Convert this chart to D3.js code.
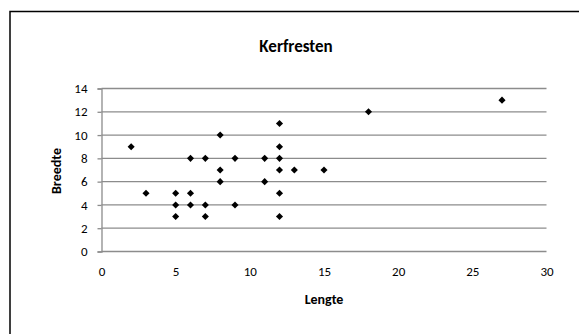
<!DOCTYPE html>
<html><head><meta charset="utf-8">
<script src="https://cdn.jsdelivr.net/npm/d3@7"></script>
<style>body{margin:0;background:#fff;}svg{display:block;}</style>
</head><body>
<svg id="c" width="579" height="334"></svg>
<script>
const lengte = [2,3,5,5,5,6,6,6,7,7,7,8,8,8,9,9,11,11,12,12,12,12,12,12,13,15,18,27];
const breedte = [9,5,5,4,3,8,5,4,8,4,3,10,7,6,8,4,8,6,11,9,8,7,5,3,7,7,12,13];
const xTicks = [0,5,10,15,20,25,30];
const yTicks = [0,2,4,6,8,10,12,14];
const title = "Kerfresten", xTitle = "Lengte", yTitle = "Breedte";

const svg = d3.select("#c");
const font = "Calibri, Carlito, 'Open Sans', sans-serif";
svg.append("rect").attr("x",10).attr("y",11.5).attr("width",620).attr("height",400)
  .attr("fill","#fff").attr("stroke","#000").attr("stroke-width",1.5);

const x = d3.scaleLinear().domain([0,30]).range([101.5,546.5]);
const y = d3.scaleLinear().domain([0,14]).range([251.5,88.5]);

svg.append("g").selectAll("line").data(yTicks).join("line")
  .attr("x1",x(0)).attr("x2",x(30)).attr("y1",d=>y(d)).attr("y2",d=>y(d))
  .attr("stroke","#8c8c8c").attr("stroke-width",1.3);

const ya = svg.append("g").attr("transform",`translate(${x(0)},0)`)
  .call(d3.axisLeft(y).tickValues(yTicks).tickSize(4).tickPadding(10));
ya.select(".domain").attr("stroke","#8c8c8c").attr("stroke-width",1.3);
ya.selectAll(".tick line").attr("stroke","#8c8c8c").attr("stroke-width",1.3);
ya.selectAll("text").attr("font-family",font).attr("font-size",13).attr("fill","#000");

const xa = svg.append("g").attr("transform",`translate(0,${y(0)})`)
  .call(d3.axisBottom(x).tickValues(xTicks).tickSize(0).tickPadding(15));
xa.select(".domain").remove();
xa.selectAll("text").attr("font-family",font).attr("font-size",13).attr("fill","#000");

const diamond = d3.symbol().type(d3.symbolDiamond2).size(32);
svg.append("g").selectAll("path").data(lengte.map((v,i)=>[v,breedte[i]])).join("path")
  .attr("d",diamond).attr("transform",d=>`translate(${x(d[0])},${y(d[1])})`).attr("fill","#000");

svg.append("text").attr("x",296).attr("y",52).attr("text-anchor","middle")
  .attr("font-family",font).attr("font-weight","bold").attr("font-size",17).text(title);
svg.append("text").attr("x",324).attr("y",304).attr("text-anchor","middle")
  .attr("font-family",font).attr("font-weight","bold").attr("font-size",14).text(xTitle);
svg.append("text").attr("transform","translate(61,171) rotate(-90)").attr("text-anchor","middle")
  .attr("font-family",font).attr("font-weight","bold").attr("font-size",14).text(yTitle);
</script>
</body></html>
